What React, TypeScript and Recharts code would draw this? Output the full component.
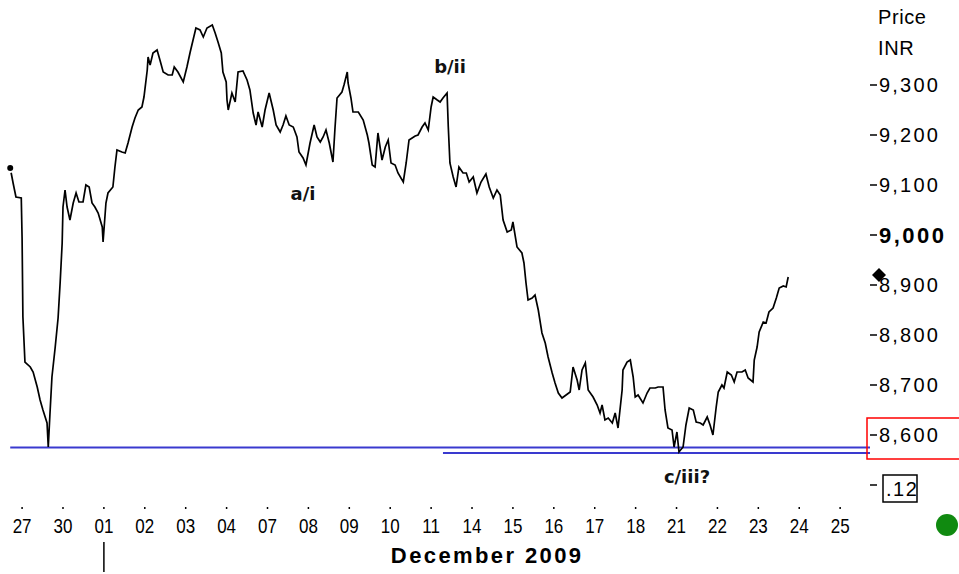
import { LineChart, Line, XAxis, YAxis, ReferenceLine, ReferenceDot } from "recharts";

// trading days shown on the axis (Nov 27 .. Dec 25, 2009)
const days = ["27", "30", "01", "02", "03", "04", "07", "08", "09", "10", "11", "14", "15", "16", "17", "18", "21", "22", "23", "24", "25"];
const dayTicks = days.map((_, i) => i);
const priceTicks = [8500, 8600, 8700, 8800, 8900, 9000, 9100, 9200, 9300];

// intraday prices, [day index, price]
const weekNov27: [number, number][] = [
  [-0.29, 9134], [-0.22, 9104], [-0.15, 9076], [-0.02, 9074], [0.0, 8994], [0.02, 8836], [0.07, 8746],
  [0.2, 8736], [0.27, 8726], [0.37, 8696], [0.44, 8670], [0.51, 8650], [0.61, 8624], [0.64, 8576],
  [0.68, 8640], [0.73, 8716], [0.81, 8776], [0.88, 8834], [0.93, 8904], [0.98, 8984], [1.0, 9056],
  [1.05, 9090], [1.1, 9056], [1.17, 9030], [1.25, 9064], [1.32, 9084], [1.39, 9066], [1.49, 9066],
  [1.56, 9100], [1.64, 9096], [1.71, 9064], [1.78, 9056], [1.86, 9044], [1.96, 9016], [1.98, 8986],
  [2.05, 9064], [2.1, 9084], [2.22, 9096], [2.27, 9136], [2.32, 9170], [2.44, 9166], [2.52, 9164],
  [2.59, 9184], [2.69, 9216], [2.76, 9234], [2.84, 9250], [2.93, 9256], [2.98, 9276], [3.06, 9330],
  [3.08, 9356], [3.13, 9340], [3.2, 9364], [3.3, 9370], [3.37, 9350], [3.45, 9326], [3.57, 9320],
  [3.67, 9320], [3.72, 9336], [3.81, 9326], [3.94, 9306], [4.03, 9336], [4.11, 9366], [4.18, 9390],
  [4.25, 9414], [4.35, 9410], [4.43, 9396], [4.52, 9414], [4.65, 9420], [4.72, 9404], [4.79, 9386],
  [4.87, 9364], [4.91, 9326], [4.99, 9306], [5.01, 9270], [5.04, 9250], [5.13, 9284], [5.21, 9266],
  [5.28, 9326], [5.4, 9328], [5.5, 9310],
];

const weekDec07: [number, number][] = [
  [5.57, 9290], [5.65, 9244], [5.72, 9220], [5.77, 9246], [5.87, 9216], [5.94, 9250], [6.04, 9284],
  [6.14, 9250], [6.21, 9220], [6.31, 9206], [6.38, 9220], [6.45, 9238], [6.53, 9220], [6.63, 9216],
  [6.72, 9196], [6.77, 9166], [6.87, 9154], [6.94, 9140], [7.04, 9184], [7.14, 9220], [7.21, 9196],
  [7.29, 9186], [7.36, 9196], [7.43, 9210], [7.51, 9184], [7.6, 9146], [7.65, 9214], [7.7, 9274],
  [7.82, 9286], [7.87, 9300], [7.95, 9326], [7.97, 9304], [8.04, 9274], [8.09, 9246], [8.22, 9246],
  [8.34, 9230], [8.44, 9200], [8.48, 9184], [8.56, 9140], [8.63, 9136], [8.7, 9204], [8.8, 9150],
  [8.88, 9176], [8.95, 9190], [9.02, 9144], [9.12, 9140], [9.19, 9124], [9.32, 9106], [9.39, 9144],
  [9.46, 9190], [9.61, 9198], [9.68, 9200], [9.78, 9216], [9.85, 9224], [9.93, 9210], [10.0, 9256],
  [10.05, 9276], [10.15, 9270], [10.22, 9266], [10.29, 9274], [10.39, 9284], [10.42, 9216], [10.46, 9144],
];

const weekDec14: [number, number][] = [
  [10.54, 9116], [10.61, 9096], [10.68, 9136], [10.78, 9124], [10.86, 9124], [10.93, 9106], [11.03, 9116],
  [11.12, 9084], [11.22, 9106], [11.34, 9122], [11.42, 9096], [11.52, 9074], [11.61, 9090], [11.69, 9080],
  [11.76, 9030], [11.86, 9006], [11.96, 9010], [12.0, 9026], [12.1, 8976], [12.22, 8964], [12.27, 8944],
  [12.32, 8904], [12.37, 8870], [12.47, 8874], [12.54, 8880], [12.62, 8850], [12.71, 8804], [12.79, 8784],
  [12.86, 8756], [12.96, 8724], [13.03, 8704], [13.11, 8684], [13.2, 8674], [13.3, 8680], [13.4, 8686],
  [13.47, 8736], [13.57, 8710], [13.62, 8690], [13.69, 8730], [13.77, 8744], [13.84, 8690], [13.96, 8676],
  [14.06, 8660], [14.13, 8644], [14.18, 8660], [14.25, 8630], [14.33, 8634], [14.43, 8624], [14.5, 8644],
  [14.57, 8614], [14.67, 8690], [14.69, 8730], [14.79, 8746], [14.87, 8750], [14.94, 8716], [14.99, 8676],
  [15.06, 8680], [15.18, 8664], [15.28, 8684], [15.35, 8694], [15.48, 8694],
];

const weekDec21: [number, number][] = [
  [15.55, 8696], [15.67, 8696], [15.72, 8650], [15.79, 8614], [15.89, 8610], [15.94, 8576], [16.01, 8606],
  [16.06, 8566], [16.16, 8576], [16.23, 8620], [16.31, 8654], [16.41, 8650], [16.48, 8626], [16.58, 8624],
  [16.65, 8620], [16.75, 8636], [16.82, 8620], [16.89, 8600], [16.97, 8656], [17.02, 8686], [17.11, 8700],
  [17.16, 8694], [17.24, 8726], [17.34, 8720], [17.41, 8706], [17.48, 8726], [17.6, 8726], [17.68, 8730],
  [17.75, 8714], [17.87, 8706], [17.9, 8750], [17.97, 8776], [18.02, 8806], [18.12, 8826], [18.19, 8824],
  [18.26, 8846], [18.36, 8854], [18.44, 8874], [18.51, 8894], [18.61, 8898], [18.68, 8896], [18.73, 8916],
];

// wave pivots: [day index, price, label]
const pivots: [number, number, string][] = [
  [6.94, 9140, "a/i"],
  [10.39, 9284, "b/ii"],
  [16.06, 8566, "c/iii?"],
];

const supportNov27 = { from: -0.29, price: 8575 };
const supportDec21 = { from: 10.29, price: 8564 };

const X_MIN = -0.54;
const X_MAX = 20.73;

const data = [...weekNov27, ...weekDec07, ...weekDec14, ...weekDec21].map(([t, p]) => ({ t, p }));
const last = data[data.length - 1];

const axisFont = "'Liberation Sans', Arial, sans-serif";

function DayTick({ x, y, payload }: any) {
  const i = payload.value as number;
  return (
    <g>
      <text
        transform={`translate(${x},${y + 18}) scale(0.85,1)`}
        textAnchor="middle"
        fontFamily={axisFont}
        fontSize={20}
        fill="#000"
      >
        {days[i]}
      </text>
      {i === 2 && <line x1={x} x2={x} y1={y + 27} y2={y + 57} stroke="#000" strokeWidth={1.5} />}
    </g>
  );
}

function PriceTick({ x, y, payload }: any) {
  const v = payload.value as number;
  if (v === 8500) {
    return (
      <g>
        <rect x={x + 4} y={y - 10} width={34} height={27} fill="#fff" stroke="#000" strokeWidth={1.5} />
        <text x={x + 7} y={y + 11} fontFamily={axisFont} fontSize={20} letterSpacing={1.5} fill="#000">.12</text>
      </g>
    );
  }
  const label = v.toLocaleString("en-US");
  return (
    <g>
      {v === 8600 && (
        <rect x={x - 12} y={y - 17} width={110} height={41} fill="none" stroke="#ff0000" strokeWidth={1.5} />
      )}
      <text
        x={x}
        y={y}
        dy="0.36em"
        fontFamily={axisFont}
        fontSize={v === 9000 ? 22 : 20}
        fontWeight={v === 9000 ? "bold" : "normal"}
        letterSpacing={v === 9000 ? 2.5 : 2.2}
        fill="#000"
      >
        {label}
      </text>
    </g>
  );
}

function PriceTitle({ viewBox }: any) {
  const { x, y } = viewBox;
  return (
    <g fontFamily={axisFont} fontSize={20} fill="#000" letterSpacing={0.6}>
      <text x={x + 8} y={y + 24}>Price</text>
      <text x={x + 8} y={y + 55}>INR</text>
    </g>
  );
}

function MonthTitle({ viewBox }: any) {
  const { x, y, width } = viewBox;
  return (
    <text
      x={x + width * 0.56}
      y={y + 56}
      textAnchor="middle"
      fontFamily={axisFont}
      fontSize={22}
      fontWeight="bold"
      letterSpacing={2.4}
      fill="#000"
    >
      December 2009
    </text>
  );
}

const pivotOffset: Record<string, [number, number]> = {
  "a/i": [-3, 35],
  "b/ii": [3, -20],
  "c/iii?": [8, 31],
};

export default function App() {
  return (
    <div style={{ position: "absolute", left: 0, top: 0, width: 959, height: 574, background: "#fff" }}>
      <LineChart width={959} height={574} data={data} margin={{ top: 0, right: 0, bottom: 0, left: 0 }}>
        <XAxis
          dataKey="t"
          type="number"
          domain={[X_MIN, X_MAX]}
          allowDataOverflow
          ticks={dayTicks}
          interval={0}
          height={67}
          axisLine={false}
          tickLine={{ stroke: "#000", strokeWidth: 1.5 }}
          tickSize={2}
          tickMargin={6}
          tick={<DayTick />}
          label={{ content: <MonthTitle /> }}
        />
        <YAxis
          orientation="right"
          type="number"
          domain={[8456, 9470]}
          allowDataOverflow
          ticks={priceTicks}
          interval={0}
          width={89}
          axisLine={false}
          tickLine={{ stroke: "#000", strokeWidth: 1.5 }}
          tickSize={7}
          tickMargin={2}
          tick={<PriceTick />}
          label={{ content: <PriceTitle /> }}
        />
        <ReferenceLine
          segment={[{ x: supportNov27.from, y: supportNov27.price }, { x: X_MAX, y: supportNov27.price }]}
          stroke="#3a3acf"
          strokeWidth={2}
          ifOverflow="visible"
        />
        <ReferenceLine
          segment={[{ x: supportDec21.from, y: supportDec21.price }, { x: X_MAX, y: supportDec21.price }]}
          stroke="#3a3acf"
          strokeWidth={2}
          ifOverflow="visible"
        />
        <Line
          dataKey="p"
          type="linear"
          stroke="#000"
          strokeWidth={1.7}
          dot={false}
          isAnimationActive={false}
        />
        {pivots.map(([t, p, text]) => (
          <ReferenceDot
            key={text}
            x={t}
            y={p}
            ifOverflow="visible"
            shape={(props: any) => (
              <text
                x={props.cx + pivotOffset[text][0]}
                y={props.cy + pivotOffset[text][1]}
                textAnchor="middle"
                fontFamily="'DejaVu Sans', Verdana, sans-serif"
                fontWeight="bold"
                fontSize={18}
                fill="#111"
              >
                {text}
              </text>
            )}
          />
        ))}
        <ReferenceDot
          x={X_MAX}
          y={last.p}
          ifOverflow="visible"
          shape={(props: any) => {
            const cx = props.cx + 9;
            const cy = props.cy - 2;
            return <polygon points={`${cx},${cy - 7} ${cx + 7},${cy} ${cx},${cy + 7} ${cx - 7},${cy}`} fill="#000" />;
          }}
        />
      </LineChart>
      <div
        style={{
          position: "absolute",
          left: 936,
          top: 514,
          width: 22,
          height: 22,
          borderRadius: "50%",
          background: "#108a10",
        }}
      />
    </div>
  );
}
